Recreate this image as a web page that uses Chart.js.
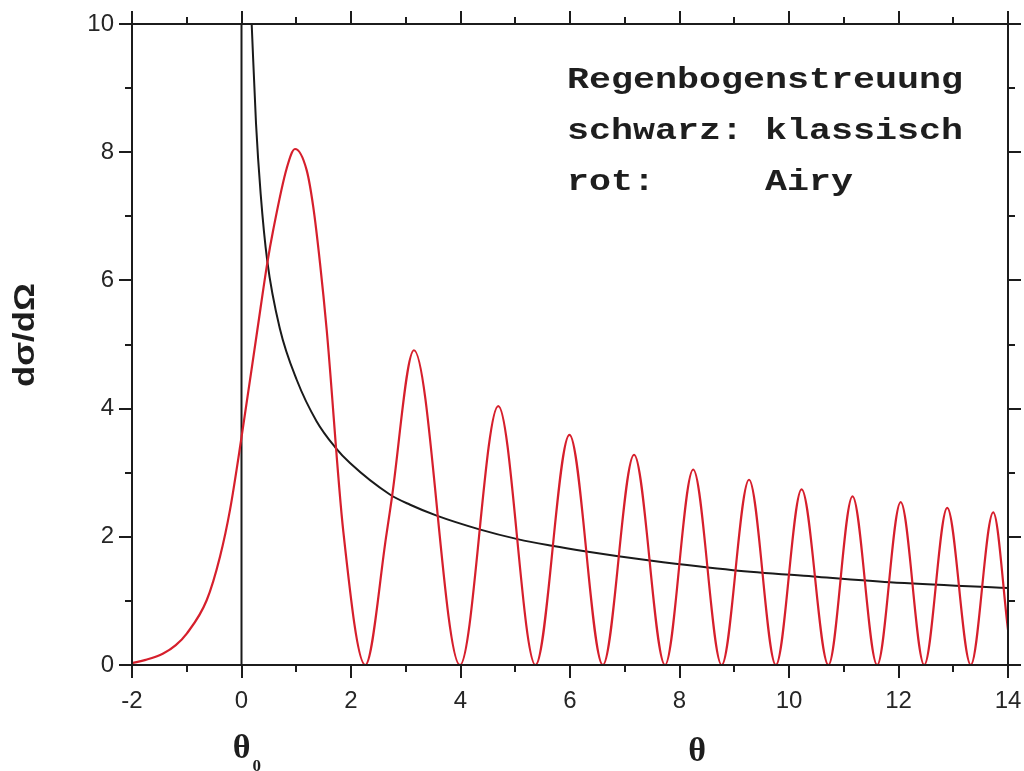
<!DOCTYPE html>
<html><head><meta charset="utf-8">
<script src="https://cdn.jsdelivr.net/npm/chart.js@4.4.0/dist/chart.umd.min.js"></script>
<style>html,body{margin:0;padding:0;background:#fff}#wrap{width:1024px;height:771px;position:relative}</style>
</head><body><div id="wrap"><canvas id="c" width="1024" height="771"></canvas></div>
<script>
// ---- data ----
const airyX = [-2.0, -1.75, -1.43, -1.2, -1.0, -0.636, -0.393, -0.21, 0, 0.29, 0.471, 0.58, 0.826, 0.977, 1.19, 1.31, 1.434, 1.556, 1.86, 2.26, 2.65, 2.74, 3.15, 3.99, 4.69, 5.37, 5.99, 6.60, 7.17, 7.735, 8.25, 8.77, 9.27, 9.76, 10.23, 10.72, 11.16, 11.61, 12.04, 12.47, 12.89, 13.32, 13.73, 14.0];
const airyY = [0.03, 0.08, 0.18, 0.31, 0.49, 1.01, 1.69, 2.42, 3.55, 5.23, 6.27, 6.79, 7.75, 8.05, 7.72, 7.15, 6.27, 5.23, 2.08, 0, 2.05, 2.57, 4.91, 0, 4.04, 0, 3.59, 0, 3.28, 0, 3.05, 0, 2.89, 0, 2.74, 0, 2.63, 0, 2.54, 0, 2.45, 0, 2.38, 0.55];
const klassX = [0.186, 0.265, 0.35, 0.471, 0.70, 1.008, 1.373, 1.708, 1.982, 2.71, 3.08, 3.565, 4.33, 5.06, 5.67, 6.30, 6.85, 7.46, 8.98, 10.44, 11.84, 14.0];
const klassY = [10, 8.45, 7.35, 6.30, 5.25, 4.45, 3.80, 3.40, 3.15, 2.66, 2.50, 2.33, 2.12, 1.96, 1.86, 1.77, 1.70, 1.63, 1.48, 1.38, 1.29, 1.20];
const theta0X = [0, 0];
const theta0Y = [0, 10];
const xRange = [-2, 14];
const yRange = [0, 10];
const xLabelStep = 2;
const yLabelStep = 2;
const minorStep = 1;
const yTitle = 'dσ/dΩ';
const xTitleMain = 'θ';
const xTitleSub = '0';
const notes = ['Regenbogenstreuung', 'schwarz: klassisch', 'rot:     Airy'];

const toPts = (xs, ys) => xs.map((x, i) => ({x, y: ys[i]}));
const SANS = "'Liberation Sans', Arial, sans-serif";

const framePlugin = {
  id: 'frame',
  afterDatasetsDraw(chart) {
    const {ctx, chartArea: a, scales: {x, y}} = chart;
    ctx.save();
    ctx.strokeStyle = '#1c1c1c';
    ctx.lineWidth = 2;
    ctx.strokeRect(a.left, a.top, a.right - a.left, a.bottom - a.top);
    ctx.beginPath();
    for (let v = xRange[0]; v <= xRange[1] + 1e-9; v += minorStep) {
      const p = Math.round(x.getPixelForValue(v));
      const len = (Math.round(v) % xLabelStep === 0) ? 13 : 7;
      ctx.moveTo(p, a.bottom); ctx.lineTo(p, a.bottom + len);
      ctx.moveTo(p, a.top); ctx.lineTo(p, a.top - len);
    }
    for (let v = yRange[0]; v <= yRange[1] + 1e-9; v += minorStep) {
      const p = Math.round(y.getPixelForValue(v));
      const len = (Math.round(v) % yLabelStep === 0) ? 13 : 7;
      ctx.moveTo(a.left, p); ctx.lineTo(a.left - len, p);
      ctx.moveTo(a.right, p); ctx.lineTo(a.right + len, p);
    }
    ctx.stroke();
    ctx.restore();
  },
  afterDraw(chart) {
    const {ctx, scales: {x}} = chart;
    ctx.save();
    ctx.fillStyle = '#1e1e1e';
    // y title
    ctx.save();
    ctx.translate(26, 335);
    ctx.rotate(-Math.PI / 2);
    ctx.scale(1.16, 1);
    ctx.font = "bold 30px " + SANS;
    ctx.textAlign = 'center';
    ctx.textBaseline = 'middle';
    ctx.fillText(yTitle, 0, 0);
    ctx.restore();
    // theta_0 under x = 0
    const x0 = x.getPixelForValue(theta0X[0]);
    ctx.font = "bold 34px 'Liberation Serif', 'Times New Roman', serif";
    ctx.textAlign = 'center';
    ctx.textBaseline = 'alphabetic';
    ctx.fillText(xTitleMain, x0, 758);
    ctx.font = "bold 17px 'Liberation Serif', 'Times New Roman', serif";
    ctx.textAlign = 'left';
    ctx.fillText(xTitleSub, x0 + 11, 771);
    // theta
    ctx.font = "bold 34px 'Liberation Serif', 'Times New Roman', serif";
    ctx.textAlign = 'center';
    ctx.fillText(xTitleMain, 697, 761);
    // annotation
    ctx.font = "bold 30px 'Liberation Mono', 'Courier New', monospace";
    ctx.textAlign = 'left';
    const base = [88, 139, 190];
    const w = ctx.measureText(notes[0]).width;
    const sx = 396 / w;
    notes.forEach((t, i) => {
      ctx.save();
      ctx.translate(567, base[i]);
      ctx.scale(sx, 1);
      ctx.fillText(t, 0, 0);
      ctx.restore();
    });
    ctx.restore();
  }
};

new Chart(document.getElementById('c'), {
  type: 'line',
  data: {
    datasets: [
      {label: 'Airy', data: toPts(airyX, airyY), borderColor: '#d61f2c', borderWidth: 2.2,
       pointRadius: 0, cubicInterpolationMode: 'monotone', fill: false},
      {label: 'klassisch', data: toPts(klassX, klassY), borderColor: '#1a1a1a', borderWidth: 2,
       pointRadius: 0, cubicInterpolationMode: 'monotone', fill: false},
      {label: 'theta0', data: toPts(theta0X, theta0Y), borderColor: '#1a1a1a', borderWidth: 2,
       pointRadius: 0, tension: 0, fill: false}
    ]
  },
  options: {
    responsive: false,
    devicePixelRatio: 1,
    animation: false,
    layout: {padding: {left: 0, right: 16, top: 24, bottom: 0}},
    plugins: {legend: {display: false}, tooltip: {enabled: false}},
    scales: {
      x: {
        type: 'linear', min: xRange[0], max: xRange[1],
        grid: {display: false, drawTicks: false},
        border: {display: false},
        ticks: {stepSize: xLabelStep, padding: 22, color: '#262626', font: {family: SANS, size: 24}, maxRotation: 0, autoSkip: false},
        afterFit(s) { s.height = 106; s.paddingLeft = 0; s.paddingRight = 0; }
      },
      y: {
        type: 'linear', min: yRange[0], max: yRange[1],
        grid: {display: false, drawTicks: false},
        border: {display: false},
        ticks: {stepSize: yLabelStep, padding: 18, color: '#262626', font: {family: SANS, size: 24}},
        afterFit(s) { s.width = 132; s.paddingTop = 0; s.paddingBottom = 0; }
      }
    }
  },
  plugins: [framePlugin]
});
</script>
</body></html>
